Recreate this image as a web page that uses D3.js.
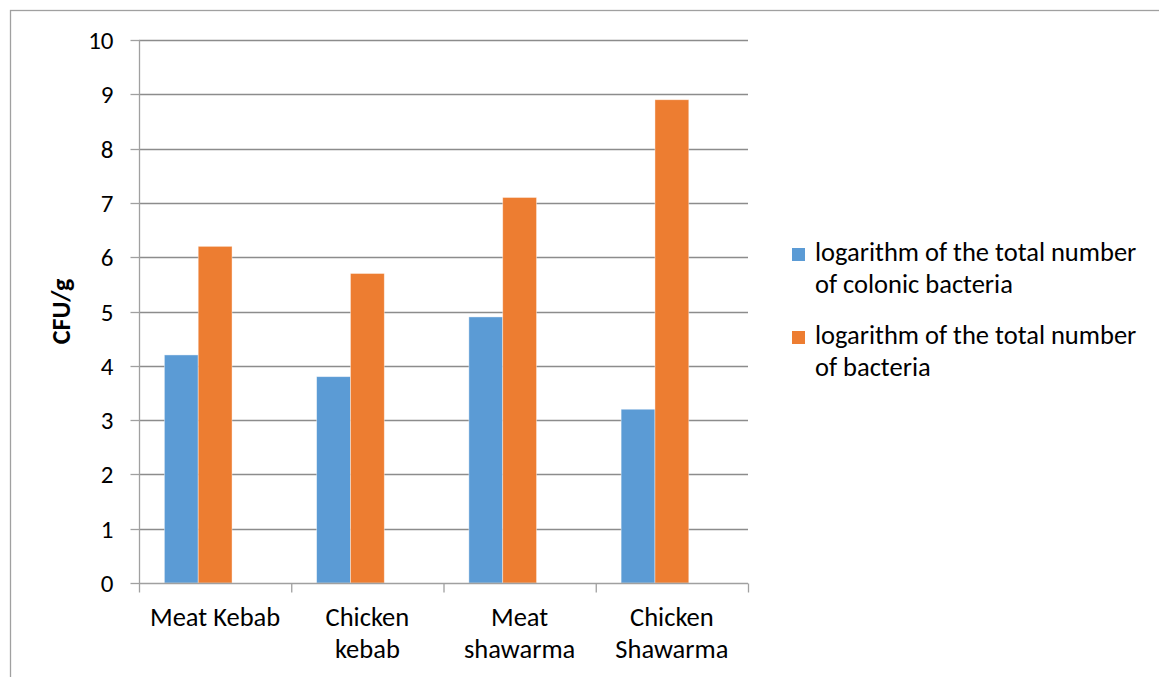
<!DOCTYPE html>
<html>
<head>
<meta charset="utf-8">
<script src="https://cdn.jsdelivr.net/npm/d3@7"></script>
<style>
html, body { margin: 0; padding: 0; background: #fff; }
svg { display: block; }
text { font-family: Carlito, Calibri, Lato, sans-serif; fill: #000; }
</style>
</head>
<body>
<svg id="chart" width="1159" height="677"></svg>
<script>
const categories = [["Meat Kebab"], ["Chicken", "kebab"], ["Meat", "shawarma"], ["Chicken", "Shawarma"]];
const seriesNames = [
  ["logarithm of the total number", "of colonic bacteria"],
  ["logarithm of the total number", "of bacteria"]
];
const colonicValues = [4.2, 3.8, 4.9, 3.2];
const totalValues = [6.2, 5.7, 7.1, 8.9];
const yTicks = [0, 1, 2, 3, 4, 5, 6, 7, 8, 9, 10];
const yLabel = "CFU/g";
const colors = ["#5B9BD5", "#ED7D31"];

const series = [colonicValues, totalValues];
const svg = d3.select("#chart");

// outer chart border
svg.append("rect").attr("x", 10.5).attr("y", 10.5).attr("width", 1160).attr("height", 700)
  .attr("fill", "none").attr("stroke", "#a0a0a0").attr("stroke-width", 1.3);

const plot = { left: 139, right: 748, top: 40, bottom: 583 };

const x = d3.scaleBand().domain(d3.range(categories.length)).range([plot.left, plot.right]).padding(0);
// Excel clustered layout: 3 slots per category (third empty), gap width 150%
const inner = d3.scaleBand().domain([0, 1, 2]).range([0, x.bandwidth()]).paddingInner(0).paddingOuter(0.75);
const y = d3.scaleLinear().domain([0, 10]).range([plot.bottom, plot.top]);

// gridlines
svg.append("g").selectAll("line").data(yTicks.filter(d => d > 0)).join("line")
  .attr("x1", plot.left).attr("x2", plot.right)
  .attr("y1", d => Math.round(y(d)) + 0.5).attr("y2", d => Math.round(y(d)) + 0.5)
  .attr("stroke", "#8c8c8c").attr("stroke-width", 1.3);

// bars
series.forEach((vals, si) => {
  svg.append("g").selectAll("rect").data(vals).join("rect")
    .attr("x", (d, i) => x(i) + inner(si))
    .attr("width", inner.bandwidth())
    .attr("y", d => y(d))
    .attr("height", d => y(0) - y(d))
    .attr("fill", colors[si])
    .attr("stroke", "#ffffff").attr("stroke-opacity", 0.5).attr("stroke-width", 0.8);
});

// y axis
const yAxis = d3.axisLeft(y).tickValues(yTicks).tickSize(9).tickPadding(17).tickFormat(d3.format("d"));
const gy = svg.append("g").attr("transform", `translate(${plot.left + 0.5},0)`).call(yAxis);
gy.select(".domain").attr("stroke", "#a0a0a0").attr("stroke-width", 1.3).attr("d", `M0,${plot.top}V${plot.bottom}`);
gy.selectAll(".tick line").attr("stroke", "#a0a0a0").attr("stroke-width", 1.3);
gy.selectAll(".tick").attr("transform", d => `translate(0,${Math.round(y(d)) + 0.5})`);
gy.selectAll(".tick text").style("font-size", "25px").attr("dy", "0.34em")
  .style("font-family", "Carlito, Calibri, Lato, sans-serif");

// x axis
const xAxis = d3.axisBottom(d3.scaleLinear().domain([0, 4]).range([plot.left, plot.right]))
  .tickValues([0, 1, 2, 3, 4]).tickSize(9).tickFormat("");
const gx = svg.append("g").attr("transform", `translate(0,${plot.bottom + 0.5})`).call(xAxis);
gx.select(".domain").attr("stroke", "#a0a0a0").attr("stroke-width", 1.3).attr("d", `M${plot.left},0H${plot.right}`);
gx.selectAll(".tick line").attr("stroke", "#a0a0a0").attr("stroke-width", 1.3);

// category labels
const catG = svg.append("g");
categories.forEach((lines, i) => {
  const t = catG.append("text").attr("text-anchor", "middle").style("font-size", "26.5px")
    .attr("x", x(i) + x.bandwidth() / 2).attr("y", 626);
  lines.forEach((ln, j) => {
    t.append("tspan").attr("x", x(i) + x.bandwidth() / 2).attr("y", 626 + j * 32).text(ln);
  });
});

// y label
svg.append("text").attr("transform", `translate(70,${(plot.top + plot.bottom) / 2}) rotate(-90)`)
  .attr("text-anchor", "middle").style("font-size", "26px").style("font-weight", "bold").text(yLabel);

// legend
const legendTop = [261, 344];
seriesNames.forEach((lines, si) => {
  const base = legendTop[si];
  svg.append("rect").attr("x", 792).attr("y", base - 13).attr("width", 13).attr("height", 13)
    .attr("fill", colors[si]);
  const t = svg.append("text").style("font-size", "26.5px");
  lines.forEach((ln, j) => {
    t.append("tspan").attr("x", 815).attr("y", base + j * 32).text(ln);
  });
});
</script>
</body>
</html>
